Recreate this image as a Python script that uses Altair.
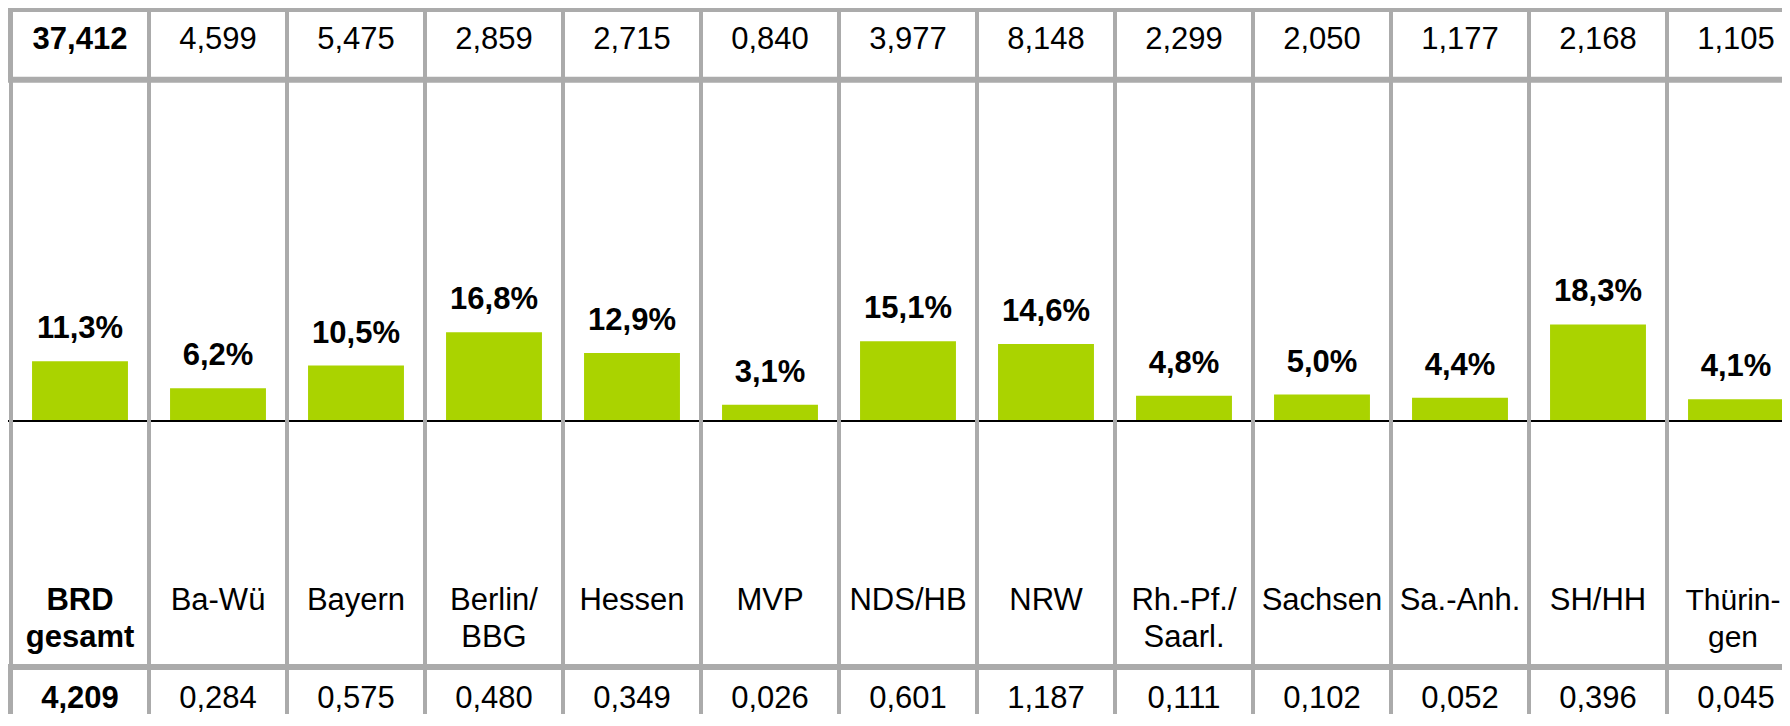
import altair as alt
import pandas as pd

# ---- data ----
categories = ["BRD gesamt", "Ba-Wü", "Bayern", "Berlin/BBG", "Hessen", "MVP", "NDS/HB",
              "NRW", "Rh.-Pf./Saarl.", "Sachsen", "Sa.-Anh.", "SH/HH", "Thüringen"]
row_labels = ["BRD\ngesamt", "Ba-Wü", "Bayern", "Berlin/\nBBG", "Hessen", "MVP", "NDS/HB",
              "NRW", "Rh.-Pf./\nSaarl.", "Sachsen", "Sa.-Anh.", "SH/HH", "Thürin-\ngen"]
top_values = ["37,412", "4,599", "5,475", "2,859", "2,715", "0,840", "3,977",
              "8,148", "2,299", "2,050", "1,177", "2,168", "1,105"]
percent = [11.3, 6.2, 10.5, 16.8, 12.9, 3.1, 15.1, 14.6, 4.8, 5.0, 4.4, 18.3, 4.1]
bottom_values = ["4,209", "0,284", "0,575", "0,480", "0,349", "0,026", "0,601",
                 "1,187", "0,111", "0,102", "0,052", "0,396", "0,045"]

n = len(categories)
df = pd.DataFrame({
    "cat": categories,
    "label": row_labels,
    "top": top_values,
    "pct": percent,
    "pct_label": [f"{v:.1f}".replace(".", ",") + "%" for v in percent],
    "bottom": bottom_values,
    "first": [i == 0 for i in range(n)],
    "last": [i == n - 1 for i in range(n)],
})

W, H = 1774, 706
FONT = "Liberation Sans"
GRAY = "#ABABAB"
GREEN = "#AAD300"

xscale = alt.Scale(domain=categories, range=[3, 1797], paddingInner=0, paddingOuter=0)
# baseline (0 %) sits 413 px below the top, 5.28 px per percentage point
yscale = alt.Scale(domain=[-(H - 413) / 5.28, 413 / 5.28], nice=False, zero=False)

X = alt.X("cat:N", scale=xscale, axis=None, sort=categories)
Xstart = alt.X("cat:N", scale=xscale, axis=None, sort=categories, bandPosition=0)
Y = alt.Y("pct:Q", scale=yscale, axis=None)

base = alt.Chart(df)

bars = base.mark_bar(color=GREEN, width=alt.RelativeBandSize(0.695)).encode(
    x=X, y=Y, y2=alt.datum(0)
)

zero_line = base.mark_rule(color="black", strokeWidth=2).encode(
    x=alt.value(0), x2=alt.value(W), y=alt.Y(datum=0, scale=yscale, axis=None)
)

dividers = base.mark_rule(color=GRAY, strokeWidth=4).encode(
    x=Xstart, y=alt.value(0), y2=alt.value(H)
)

hlines = alt.Chart(pd.DataFrame({"yy": [1, 71.7, 659]})).mark_rule(
    color=GRAY, strokeWidth=6
).encode(x=alt.value(0), x2=alt.value(W),
         y=alt.Y("yy:Q", scale=alt.Scale(domain=[0, H], range=[0, H]), axis=None))

left_top = base.mark_rule(color=GRAY, strokeWidth=6).encode(
    x=alt.value(1.7), y=alt.value(0), y2=alt.value(72)
)
left_bottom = base.mark_rule(color=GRAY, strokeWidth=6).encode(
    x=alt.value(1.7), y=alt.value(659), y2=alt.value(H)
)

pct_text = base.mark_text(font=FONT, fontSize=31, fontWeight="bold", baseline="alphabetic",
                          dy=-23, color="black").encode(x=X, y=Y, text="pct_label:N")

def row_text(field, ypos, filt, bold=False, baseline="alphabetic", line_height=None,
             size=31, dx=0):
    kw = dict(font=FONT, fontSize=size, fontWeight="bold" if bold else "normal",
              baseline=baseline, color="black", align="center", dx=dx)
    if line_height:
        kw.update(lineBreak="\n", lineHeight=line_height)
    return base.transform_filter(filt).mark_text(**kw).encode(
        x=X, y=alt.value(ypos), text=f"{field}:N")

mid = ~alt.datum.first & ~alt.datum.last
texts = [
    row_text("top", 41.3, alt.datum.first, bold=True),
    row_text("top", 41.3, ~alt.datum.first),
    row_text("label", 578, alt.datum.first, bold=True, baseline="top", line_height=37),
    row_text("label", 578, mid, baseline="top", line_height=37),
    row_text("label", 578, alt.datum.last, baseline="top", line_height=37, size=30, dx=-3),
    row_text("bottom", 700, alt.datum.first, bold=True),
    row_text("bottom", 700, ~alt.datum.first),
]

chart = alt.layer(
    bars, zero_line, dividers, hlines, left_top, left_bottom, pct_text, *texts
).resolve_scale(y="independent").properties(
    width=W, height=H, autosize=alt.AutoSizeParams(type="none"), padding=0,
    background="white"
).configure_view(stroke=None)

chart.save("out.html", embed_options={"renderer": "svg", "actions": False})
